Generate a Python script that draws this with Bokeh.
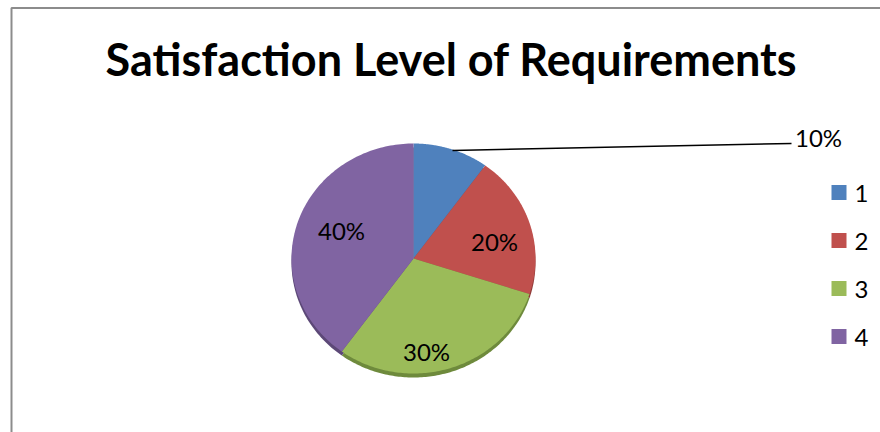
import numpy as np
from bokeh.plotting import figure
from bokeh.models import Range1d
from bokeh.core.properties import value
from bokeh.embed import file_html
from bokeh.resources import INLINE

# Chart data
title_text = "Satisfaction Level of Requirements"
categories = ["1", "2", "3", "4"]
shares = [10, 20, 30, 40]          # percent of responses
colors = ["#4F81BD", "#C0504D", "#9BBB59", "#8064A2"]
shade_colors = ["#3A6190", "#8E3A38", "#6E8A3C", "#5C4877"]

W, H = 880, 432
FONT = "Lato"

# Pixel-like coordinate space, y grows downward
p = figure(width=W, height=H, x_range=Range1d(0, W), y_range=Range1d(H, 0),
           output_backend="svg", toolbar_location=None, min_border=0)
p.axis.visible = False
p.grid.visible = False
p.outline_line_color = None
p.background_fill_color = "white"

# Frame around the chart area
p.line(x=[11, 11, W + 5], y=[H + 5, 7.5, 7.5], line_color="#8C8C8C", line_width=2)

# Pie geometry (slightly flattened, as seen from a small tilt)
cx, cy, rx, ry = 413, 258, 122, 115
total = float(sum(shares))
fractions = np.array(shares) / total
ends = np.cumsum(fractions) * 2 * np.pi
starts = ends - fractions * 2 * np.pi


def slice_patch(a0, a1, dy=0.0):
    t = np.linspace(a0, a1, 120)
    xs = np.concatenate([[cx], cx + rx * np.sin(t), [cx]])
    ys = np.concatenate([[cy + dy], cy + dy - ry * np.cos(t), [cy + dy]])
    return list(xs), list(ys)


# Thin darker rim under the pie
sx, sy = [], []
for a0, a1 in zip(starts, ends):
    xs, ys = slice_patch(a0, a1, dy=4)
    sx.append(xs)
    sy.append(ys)
p.patches(xs=sx, ys=sy, fill_color=shade_colors, line_color=None)

# Pie slices
px, py = [], []
for a0, a1 in zip(starts, ends):
    xs, ys = slice_patch(a0, a1)
    px.append(xs)
    py.append(ys)
p.patches(xs=px, ys=py, fill_color=colors, line_color=None)

# Percentage labels
label_pos = [(818, 137), (494, 241), (426, 351), (341, 230)]
labels = [f"{v / total * 100:.0f}%" for v in shares]
p.text(x=[q[0] for q in label_pos], y=[q[1] for q in label_pos], text=labels,
       text_font=value(FONT), text_font_size="24px", text_color="#000000",
       text_align="center", text_baseline="middle")

# Leader line for the smallest slice
p.line(x=[452, 791], y=[150, 143], line_color="#000000", line_width=1.5)

# Title
p.text(x=[451], y=[58], text=[title_text], text_font=value(FONT),
       text_font_style="bold", text_font_size="45px", text_color="#000000",
       text_align="center", text_baseline="middle")

# Legend
leg_y = [192 + 48 * i for i in range(len(categories))]
p.rect(x=[838.5] * len(categories), y=leg_y, width=15, height=15,
       fill_color=colors, line_color=None)
p.text(x=[854] * len(categories), y=[v + 1 for v in leg_y], text=categories,
       text_font=value(FONT), text_font_size="24px", text_color="#000000",
       text_align="left", text_baseline="middle")

open("out.html", "w").write(file_html(p, INLINE))
